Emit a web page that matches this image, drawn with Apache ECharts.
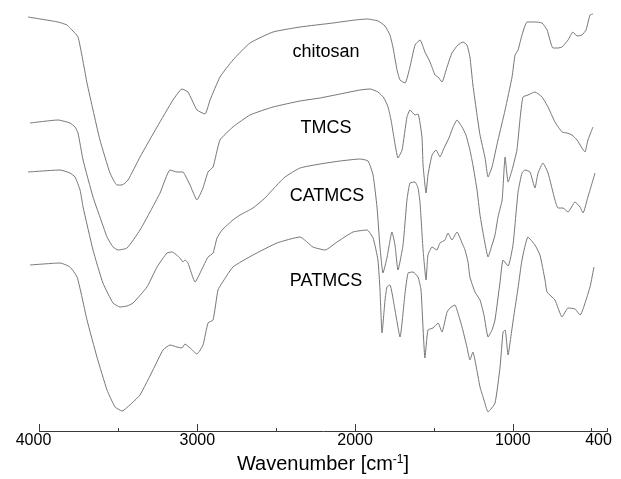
<!DOCTYPE html>
<html><head><meta charset="utf-8">
<script src="https://cdn.jsdelivr.net/npm/echarts@6/dist/echarts.min.js"></script>
<style>html,body{margin:0;padding:0;background:#fff}#c{width:621px;height:479px}</style>
</head><body><div id="c"></div>
<script>
// Wavenumber [cm-1], transmittance (arbitrary units, curves offset)
const chitosan = [[4073,414],[3883,409],[3826,406],[3807,403],[3756,394],[3699,348],[3661,321],[3617,291],[3553,258],[3509,246],[3477,246],[3439,251],[3363,274],[3255,304],[3154,331],[3097,342],[3059,339],[3002,321],[2951,317],[2919,331],[2856,354],[2774,371],[2666,388],[2520,399],[2349,404],[2140,408],[2000,411],[1924,412],[1855,410],[1810,405],[1779,396],[1760,384],[1734,361],[1715,351],[1683,348],[1652,364],[1620,386],[1588,391],[1557,379],[1525,369],[1493,356],[1474,354],[1449,349],[1417,364],[1386,378],[1348,386],[1316,389],[1291,386],[1272,374],[1253,346],[1227,316],[1208,296],[1176,273],[1157,254],[1132,264],[1094,291],[1049,321],[1005,354],[986,376],[967,381],[942,396],[910,409],[860,409],[815,408],[783,401],[746,383],[714,383],[688,384],[650,391],[619,399],[593,395],[562,396],[536,401],[511,416],[492,417]];
const tmcs = [[4060,308],[3883,311],[3807,308],[3775,304],[3756,298],[3724,271],[3661,234],[3617,214],[3572,194],[3534,184],[3502,181],[3445,183],[3363,201],[3300,219],[3236,238],[3173,261],[3129,259],[3091,259],[3078,256],[3046,246],[3002,231],[2964,243],[2932,259],[2900,264],[2856,291],[2774,304],[2666,316],[2520,324],[2349,330],[2222,333],[2095,337],[1969,341],[1905,342],[1855,339],[1817,333],[1791,324],[1772,311],[1753,293],[1728,273],[1702,281],[1671,314],[1652,321],[1620,316],[1601,317],[1576,294],[1569,266],[1550,238],[1538,256],[1512,276],[1487,281],[1462,274],[1436,283],[1405,293],[1379,304],[1354,311],[1322,304],[1297,296],[1272,281],[1253,266],[1227,241],[1208,216],[1183,193],[1157,174],[1132,186],[1113,196],[1094,214],[1068,231],[1049,274],[1030,249],[1005,261],[974,281],[955,311],[936,334],[904,336],[860,339],[815,334],[777,324],[733,309],[688,299],[657,298],[625,296],[593,291],[562,283],[543,279],[524,291],[492,304]];
const catmcs = [[4073,259],[3870,261],[3807,258],[3775,254],[3743,241],[3724,224],[3661,181],[3598,148],[3534,128],[3490,124],[3445,125],[3407,128],[3319,144],[3255,164],[3192,178],[3160,179],[3110,173],[3091,169],[3078,171],[3059,168],[3014,149],[2964,164],[2932,174],[2900,178],[2875,193],[2843,201],[2774,211],[2729,216],[2647,223],[2571,233],[2507,244],[2444,254],[2349,263],[2222,267],[2095,270],[1969,272],[1918,270],[1886,256],[1861,224],[1842,184],[1823,158],[1798,173],[1766,199],[1747,186],[1728,161],[1696,186],[1671,231],[1652,248],[1620,249],[1601,243],[1588,228],[1569,181],[1550,151],[1538,176],[1512,184],[1481,181],[1462,188],[1430,191],[1411,198],[1386,191],[1354,199],[1322,188],[1303,181],[1284,169],[1272,154],[1240,139],[1208,131],[1183,116],[1157,94],[1132,101],[1113,111],[1081,149],[1062,171],[1030,165],[999,186],[967,239],[942,258],[923,261],[891,259],[860,243],[840,258],[809,268],[777,258],[733,231],[714,223],[682,223],[650,219],[606,229],[574,224],[555,218],[524,234],[479,258]];
const patmcs = [[4060,166],[3870,168],[3807,164],[3762,154],[3731,134],[3699,111],[3636,74],[3572,41],[3521,24],[3477,20],[3414,28],[3363,36],[3281,61],[3217,81],[3173,86],[3129,84],[3097,83],[3078,87],[3046,83],[3002,77],[2964,86],[2932,108],[2900,111],[2869,141],[2843,148],[2774,164],[2647,176],[2495,188],[2349,194],[2267,184],[2190,181],[2114,189],[2013,199],[1924,201],[1886,193],[1855,171],[1842,141],[1829,98],[1810,131],[1798,144],[1779,146],[1747,121],[1715,94],[1683,138],[1664,158],[1633,159],[1601,154],[1582,141],[1557,73],[1538,101],[1506,103],[1474,108],[1449,99],[1417,119],[1398,123],[1367,126],[1348,118],[1322,104],[1291,84],[1272,71],[1253,79],[1234,66],[1208,44],[1183,31],[1157,19],[1113,28],[1081,64],[1062,99],[1049,101],[1030,76],[1011,96],[993,116],[967,143],[942,171],[904,194],[860,186],[828,176],[796,151],[783,139],[733,131],[688,114],[650,123],[606,122],[574,116],[511,144],[486,164]];
const seriesNames = ['chitosan','TMCS','CATMCS','PATMCS'];
const tickLabels = [4000,3000,2000,1000,400];
const majorTicks = [4000,3000,2000,1000];
const minorTicks = [3500,2500,1500,500,400];

const FONT = "'Liberation Sans', Arial, Helvetica, sans-serif";
const chart = echarts.init(document.getElementById('c'), null, {renderer:'canvas'});
const data = [chitosan, tmcs, catmcs, patmcs];
const labelPos = [[326,52],[326,128],[327,196],[326,281]];

// grid 0 holds the spectra (its x range reaches past 4000 because the recorded spectra do);
// grid 1 carries the visible axis from 4000 to 400 on the same scale.
chart.setOption({
  animation:false,
  backgroundColor:'#fff',
  grid:[
    {left:28, right:13.5, top:0, bottom:48, containLabel:false},
    {left:39.5, right:13.5, top:0, bottom:48, containLabel:false}
  ],
  xAxis:[
    {type:'value', gridIndex:0, min:400, max:4073, inverse:true, show:false},
    {type:'value', gridIndex:1, min:400, max:4000, inverse:true, position:'bottom', splitLine:{show:false},
      axisLine:{show:true, onZero:false, lineStyle:{color:'#3a3a3a', width:1}},
      axisTick:{show:true, inside:true, length:7, customValues:majorTicks, lineStyle:{color:'#3a3a3a', width:1}},
      axisLabel:{show:true, customValues:tickLabels, margin:2, color:'#000', fontSize:16, fontFamily:FONT,
        formatter:function(v){ if(v===4000) return '{l|4000}'; if(v===400) return '{r|400}'; return String(v); },
        rich:{l:{fontSize:16, fontFamily:FONT, color:'#000', padding:[0,12,0,0]}, r:{fontSize:16, fontFamily:FONT, color:'#000', padding:[0,18,0,0]}}}
    },
    {type:'value', gridIndex:1, min:400, max:4000, inverse:true, position:'bottom', splitLine:{show:false},
      axisLine:{show:false, onZero:false},
      axisTick:{show:true, inside:true, length:3, customValues:minorTicks, lineStyle:{color:'#3a3a3a', width:1}},
      axisLabel:{show:false}
    }
  ],
  yAxis:[
    {type:'value', gridIndex:0, min:0, max:431, show:false},
    {type:'value', gridIndex:1, min:0, max:431, show:false}
  ],
  series: data.map(function(d,i){ return {
    name:seriesNames[i], type:'line', data:d, xAxisIndex:0, yAxisIndex:0, showSymbol:false, symbol:'none', clip:false,
    smooth:0.15, lineStyle:{color:'#777', width:1}, silent:true
  };}),
  graphic: seriesNames.map(function(n,i){ return {
    type:'text', x:labelPos[i][0], y:labelPos[i][1],
    style:{text:n, font:'18px '+FONT, fill:'#000', textAlign:'center', textVerticalAlign:'middle'}
  };}).concat([{
    type:'text', x:323, y:464,
    style:{text:'Wavenumber [cm{s|-1}]', font:'20px '+FONT, fill:'#000', textAlign:'center', textVerticalAlign:'middle',
      rich:{s:{fontSize:12, fontFamily:FONT, fill:'#000', verticalAlign:'top', lineHeight:13}}}
  }])
});
</script></body></html>
